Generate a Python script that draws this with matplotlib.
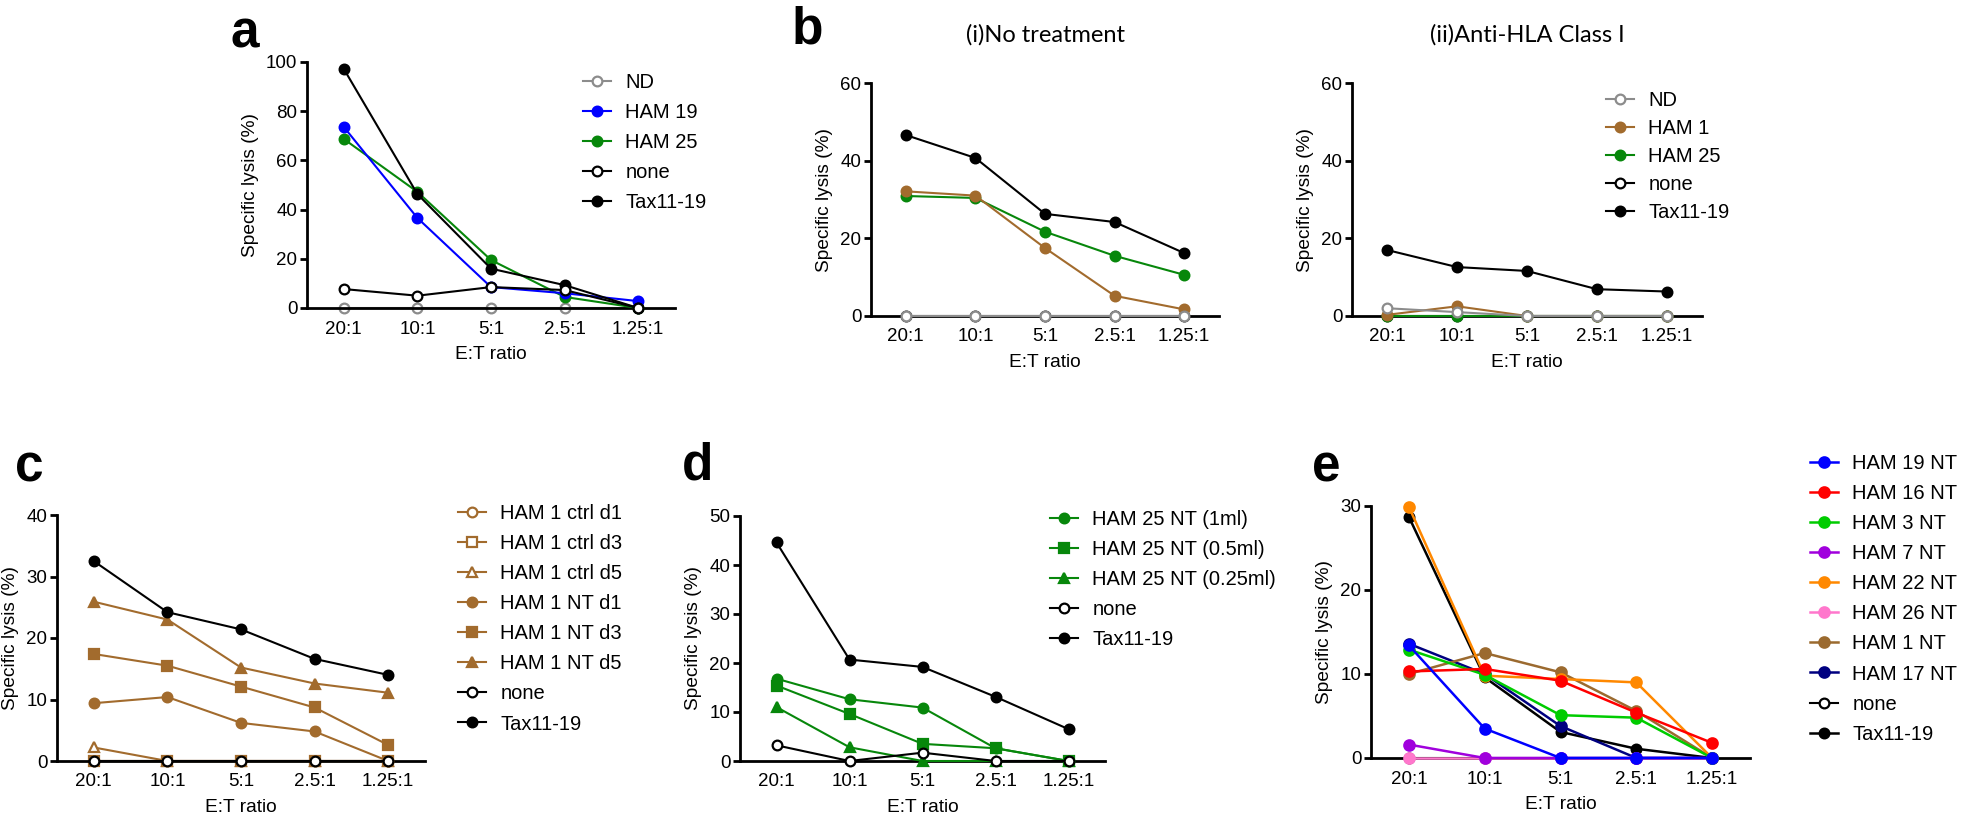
import matplotlib
matplotlib.use("Agg")
import matplotlib.pyplot as plt
from matplotlib.transforms import IdentityTransform

W, H = 1961, 816

ratios = ["20:1", "10:1", "5:1", "2.5:1", "1.25:1"]

# panel a
a_nd = [0, 0, 0, 0, 0]
a_ham19 = [73.6, 36.6, 8.5, 6.0, 2.8]
a_ham25 = [68.7, 47.2, 19.5, 4.5, 0]
a_none = [7.7, 5.0, 8.5, 7.3, 0]
a_tax = [97.2, 46.3, 16.0, 9.3, 0]

# panel b (i) no treatment
bi_nd = [0, 0, 0, 0, 0]
bi_ham1 = [32.1, 31.0, 17.5, 5.2, 1.7]
bi_ham25 = [30.9, 30.4, 21.7, 15.5, 10.6]
bi_none = [0, 0, 0, 0, 0]
bi_tax = [46.6, 40.7, 26.3, 24.2, 16.2]

# panel b (ii) anti-HLA class I
bii_nd = [2.0, 1.0, 0, 0, 0]
bii_ham1 = [0.3, 2.5, 0, 0, 0]
bii_ham25 = [0, 0, 0, 0, 0]
bii_none = [0, 0, 0, 0, 0]
bii_tax = [17.0, 12.6, 11.6, 6.9, 6.3]

# panel c
c_ctrl_d1 = [0, 0, 0, 0, 0]
c_ctrl_d3 = [0, 0, 0, 0, 0]
c_ctrl_d5 = [2.2, 0, 0, 0, 0]
c_nt_d1 = [9.4, 10.4, 6.2, 4.8, 0]
c_nt_d3 = [17.4, 15.5, 12.1, 8.7, 2.6]
c_nt_d5 = [25.9, 23.0, 15.2, 12.6, 11.1]
c_none = [0, 0, 0, 0, 0]
c_tax = [32.5, 24.2, 21.4, 16.6, 14.0]

# panel d
d_1ml = [16.8, 12.6, 10.9, 2.6, 0]
d_05ml = [15.4, 9.6, 3.5, 2.6, 0]
d_025ml = [11.0, 2.8, 0, 0, 0]
d_none = [3.2, 0, 1.7, 0, 0]
d_tax = [44.6, 20.7, 19.2, 13.1, 6.5]

# panel e
e_ham19 = [13.4, 3.5, 0, 0, 0]
e_ham16 = [10.3, 10.6, 9.2, 5.4, 1.8]
e_ham3 = [12.9, 9.9, 5.1, 4.8, 0]
e_ham7 = [1.6, 0, 0, 0, 0]
e_ham22 = [29.9, 9.8, 9.4, 9.0, 0]
e_ham26 = [0, 0, 0, 0, 0]
e_ham1 = [10.0, 12.5, 10.2, 5.6, 0]
e_ham17 = [13.6, 10.0, 3.8, 0, 0]
e_none = [0, 0, 0, 0, 0]
e_tax = [28.7, 9.6, 3.1, 1.1, 0]

GREY = "#8c8c8c"
BLUE = "#0000ff"
GREEN = "#07870b"
BROWN = "#a26b2d"
BLACK = "#000000"

plt.rcParams["font.family"] = ["Liberation Sans", "DejaVu Sans"]
fig = plt.figure(figsize=(W / 100, H / 100), dpi=100)


def make_ax(x0, x1, y_top, y_bot, ymax, ystep):
    ax = fig.add_axes([x0 / W, 1 - y_bot / H, (x1 - x0) / W, (y_bot - y_top) / H])
    ax.set_xlim(-0.5, 4.5)
    ax.set_ylim(0, ymax)
    ax.spines["top"].set_visible(False)
    ax.spines["right"].set_visible(False)
    ax.spines["left"].set_linewidth(2)
    ax.spines["bottom"].set_linewidth(2)
    ax.set_xticks(range(5))
    ax.set_xticklabels(ratios)
    ax.set_yticks(range(0, ymax + 1, ystep))
    ax.tick_params(axis="y", length=5, width=2, pad=2, labelsize=13.5)
    ax.tick_params(axis="x", length=0, pad=9, labelsize=13.5)
    ax.set_ylabel("Specific lysis (%)", fontsize=13.8, labelpad=5)
    ax.set_xlabel("E:T ratio", fontsize=13.8, labelpad=6)
    return ax


def line(ax, y, color, label, marker="o", filled=True, z=3, lw=1.5, ms=7):
    ax.plot(range(5), y, color=color, lw=lw, marker=marker, ms=ms,
            mfc=color if filled else "white", mec=color, mew=1.6,
            clip_on=False, zorder=z, label=label)


def legend(ax, x, y_first, spacing=0.55):
    ax.legend(loc="upper left", bbox_to_anchor=(x, H - y_first + 13),
              bbox_transform=IdentityTransform(), frameon=False, fontsize=14.5,
              handlelength=1.4, handletextpad=0.7, borderpad=0, borderaxespad=0,
              labelspacing=spacing, numpoints=1)


# ---- a
ax = make_ax(307, 675, 62, 308, 100, 20)
line(ax, a_nd, GREY, "ND", filled=False, z=2)
line(ax, a_ham19, BLUE, "HAM 19", z=4)
line(ax, a_ham25, GREEN, "HAM 25", z=3)
line(ax, a_none, BLACK, "none", filled=False, z=6)
line(ax, a_tax, BLACK, "Tax11-19", z=5)
legend(ax, 583, 86)

# ---- b (i)
ax = make_ax(871, 1219, 83, 316, 60, 20)
line(ax, bi_nd, GREY, "ND", filled=False, z=7)
line(ax, bi_ham1, BROWN, "HAM 1", z=5)
line(ax, bi_ham25, GREEN, "HAM 25", z=4)
line(ax, bi_none, BLACK, "none", filled=False, z=2)
line(ax, bi_tax, BLACK, "Tax11-19", z=3)
ax.set_title("(i)No treatment", family=["Lato", "DejaVu Sans"], fontsize=17,
             y=1.0, pad=30)

# ---- b (ii)
ax = make_ax(1352, 1702, 83, 316, 60, 20)
line(ax, bii_nd, GREY, "ND", filled=False, z=7)
line(ax, bii_ham1, BROWN, "HAM 1", z=5)
line(ax, bii_ham25, GREEN, "HAM 25", z=4)
line(ax, bii_none, BLACK, "none", filled=False, z=2)
line(ax, bii_tax, BLACK, "Tax11-19", z=3)
ax.set_title("(ii)Anti-HLA Class I", family=["Lato", "DejaVu Sans"], fontsize=17,
             y=1.0, pad=30)
legend(ax, 1606, 104, spacing=0.45)

# ---- c
ax = make_ax(57, 425, 515, 761, 40, 10)
line(ax, c_ctrl_d1, BROWN, "HAM 1 ctrl d1", filled=False, z=2)
line(ax, c_ctrl_d3, BROWN, "HAM 1 ctrl d3", marker="s", filled=False, z=2, ms=6.5)
line(ax, c_ctrl_d5, BROWN, "HAM 1 ctrl d5", marker="^", filled=False, z=3, ms=7.5)
line(ax, c_nt_d1, BROWN, "HAM 1 NT d1", z=3)
line(ax, c_nt_d3, BROWN, "HAM 1 NT d3", marker="s", z=3, ms=6.5)
line(ax, c_nt_d5, BROWN, "HAM 1 NT d5", marker="^", z=3, ms=7.5)
line(ax, c_none, BLACK, "none", filled=False, z=8)
line(ax, c_tax, BLACK, "Tax11-19", z=4)
legend(ax, 458, 517)

# ---- d
ax = make_ax(740, 1105, 516, 761, 50, 10)
line(ax, d_1ml, GREEN, "HAM 25 NT (1ml)", z=4)
line(ax, d_05ml, GREEN, "HAM 25 NT (0.5ml)", marker="s", z=4, ms=6.5)
line(ax, d_025ml, GREEN, "HAM 25 NT (0.25ml)", marker="^", z=4, ms=7.5)
line(ax, d_none, BLACK, "none", filled=False, z=6)
line(ax, d_tax, BLACK, "Tax11-19", z=5)
legend(ax, 1050, 523)

# ---- e
ax = make_ax(1371, 1750, 506, 758, 30, 10)
e_series = [
    (e_ham19, BLUE, "HAM 19 NT"),
    (e_ham16, "#ff0000", "HAM 16 NT"),
    (e_ham3, "#00cc00", "HAM 3 NT"),
    (e_ham7, "#a000dd", "HAM 7 NT"),
    (e_ham22, "#ff8800", "HAM 22 NT"),
    (e_ham26, "#ff77cc", "HAM 26 NT"),
    (e_ham1, "#9b6a2f", "HAM 1 NT"),
    (e_ham17, "#000080", "HAM 17 NT"),
]
n = len(e_series)
for i, (vals, col, lab) in enumerate(e_series):
    line(ax, vals, col, lab, z=3 + (n - i), lw=1.8, ms=7.5)
line(ax, e_none, BLACK, "none", filled=False, z=2.5)
line(ax, e_tax, BLACK, "Tax11-19", z=2.8, lw=1.8)
legend(ax, 1810, 467)

# panel letters
for letter, x, yb in [("a", 230, 47), ("b", 792, 43), ("c", 15, 482),
                      ("d", 682, 480), ("e", 1312, 482)]:
    fig.text(x / W, 1 - yb / H, letter, fontsize=37, fontweight="bold",
             ha="left", va="baseline")

fig.savefig("out.png", dpi=100)
